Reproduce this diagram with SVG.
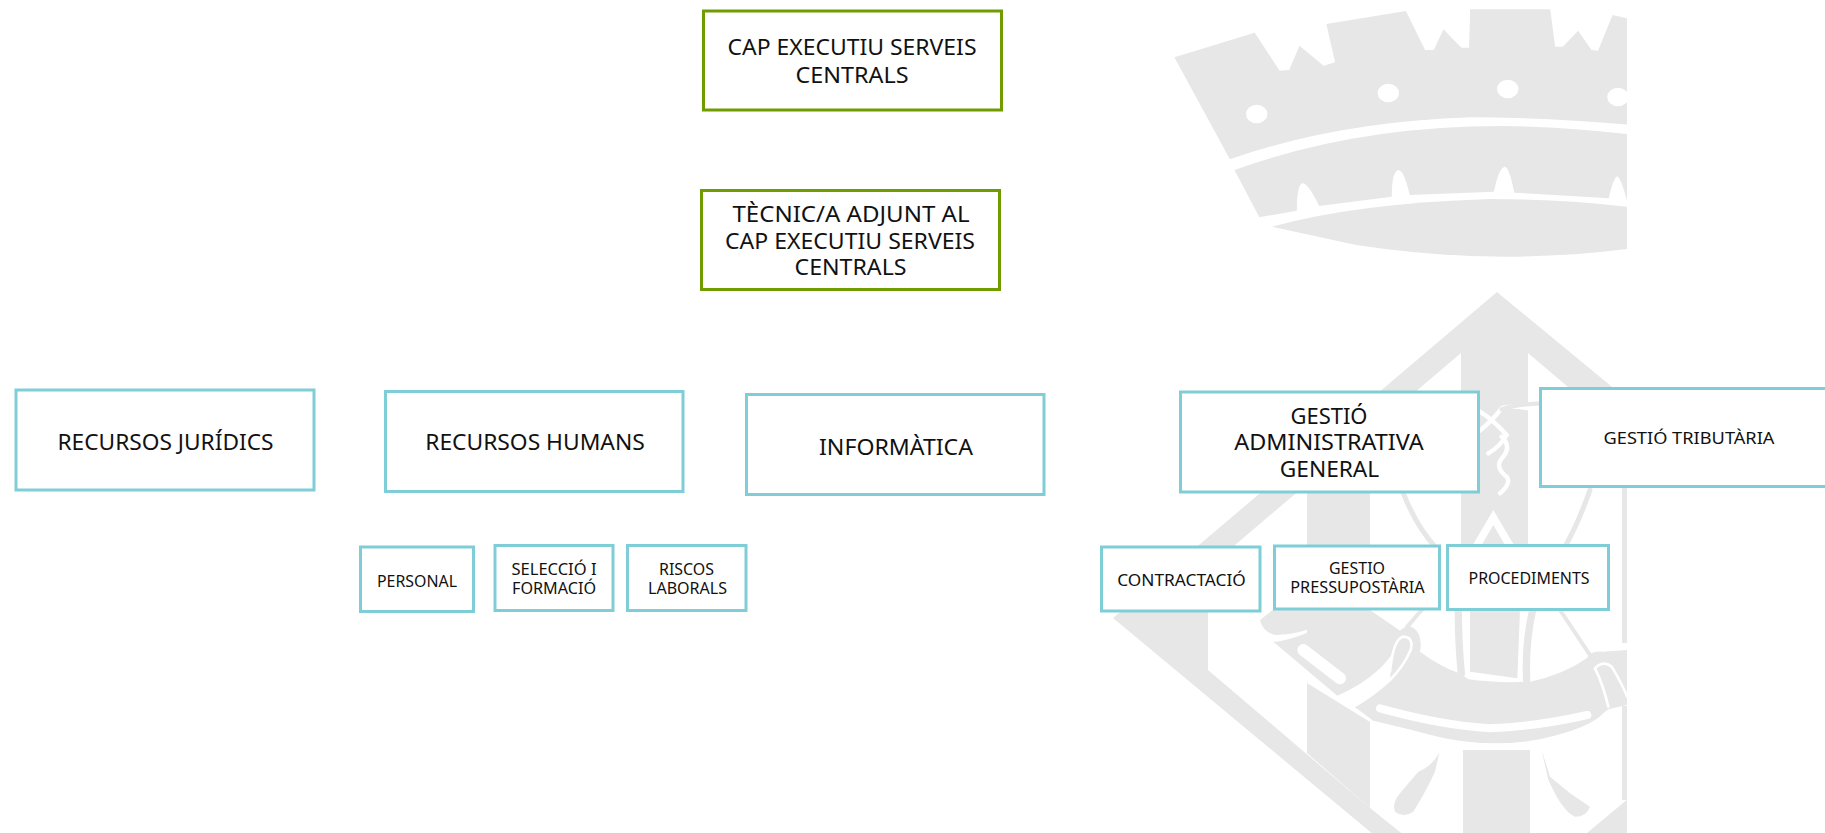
<svg xmlns="http://www.w3.org/2000/svg" width="1825" height="833" viewBox="0 0 1825 833">
<style>
.g{fill:#e7e7e7}
.gs{fill:none;stroke:#e7e7e7;stroke-linecap:round}
.w{fill:#fff}
.ws{fill:none;stroke:#fff;stroke-linecap:round}
.a{fill:#fff;stroke:#709c00;stroke-width:3}
.b{fill:#fff;stroke:#7fcdd7;stroke-width:3}
text{font-family:"Noto Sans","DejaVu Sans",sans-serif;fill:#111;text-anchor:middle}
.l{font-size:21.5px}
.m{font-size:16.5px}
.s{font-size:15.5px}
</style>
<defs><clipPath id="wm"><rect x="0" y="0" width="1627" height="833"/></clipPath></defs>
<rect width="1825" height="833" fill="#fff"/>
<g id="watermark" clip-path="url(#wm)">
<g id="crown" transform="translate(1050,0) scale(0.3827,0.3333)">
<path class="g" d="M325,172 L535,98 600,212 625,210 652,137 715,197 745,187 722,72 930,33 980,150 1003,150 1028,88 1075,143 1095,143 1098,28 1307,28 1320,140 1340,140 1380,92 1415,150 1432,152 1470,45 1520,58 V375 Q1300,352 1100,352 Q750,365 470,478 Z"/>
<ellipse class="w" cx="540" cy="342" rx="28" ry="28"/><ellipse class="w" cx="884" cy="279" rx="28" ry="28"/><ellipse class="w" cx="1196" cy="267" rx="28" ry="28"/><ellipse class="w" cx="1484" cy="291" rx="28" ry="28"/>
<path class="g" d="M482,510 Q800,378 1180,378 Q1350,380 1520,404 V610 L1507,600 Q1490,525 1480,530 Q1470,540 1460,595 L1213,578 Q1200,500 1188,500 Q1172,505 1160,575 L940,585 Q925,510 910,510 Q893,515 893,590 L703,618 Q675,550 660,550 Q645,552 645,632 L547,652 Z"/>
<path class="g" d="M580,680 Q800,610 1150,597 Q1350,597 1520,622 V745 Q1350,770 1190,770 Q1000,770 800,735 Z"/>
</g>
<g id="lozenge">
<path class="g" d="M1497,292 L1113,618 L1380,840 H1640 V410 Z"/>
<path class="w" d="M1461,353 H1528 L1640,448 V789 L1587,833 V840 H1410 L1370,808 L1208,670 V568 Z"/>
<path class="g" d="M1307,480 H1370 V640 H1307 Z"/>
<path class="g" d="M1307,683 L1370,722 V808 L1307,753 Z"/>
<path class="g" d="M1461,345 H1528 V612 H1461 Z"/>
<path class="g" d="M1463,750 H1530 V840 H1463 Z"/>
<path class="g" d="M1622,440 H1640 V643 H1622 Z"/>
<path class="g" d="M1622,706 H1640 V800 H1622 Z"/>
</g>
<g id="knot" transform="translate(1360,280) scale(0.3333)">
<path class="ws" stroke-width="13" d="M360,395 Q400,420 440,465 Q420,500 385,520 M355,455 Q390,430 425,385 Q445,375 505,385 M425,470 Q455,500 430,530 Q400,560 440,590 Q455,610 420,640"/>
<path class="gs" stroke-width="13" d="M425,388 Q470,372 545,370"/>
<path class="w" d="M400,690 L300,860 H500 Z"/>
<path class="g" d="M400,735 L362,800 H438 Z"/>
<path class="gs" stroke-width="15" d="M130,640 Q170,740 225,800"/>
<path class="gs" stroke-width="15" d="M690,630 Q655,730 615,800"/>
</g>
<g id="anchor" transform="translate(1090,600) scale(0.3333)">
<path class="g" d="M510,60 Q520,100 560,105 Q680,100 745,30 L560,20 Z"/>
<path class="g" d="M550,125 L742,287 Q850,240 905,165 L935,95 L840,30 H745 Q680,105 560,125 Z"/>
<path class="ws" stroke-width="36" d="M640,150 L750,235"/>
</g>
<g id="anchor2" transform="translate(1390,600) scale(0.3333)">
<path class="w" d="M190,30 H445 V250 H190 Z"/>
<path class="gs" stroke-width="12" d="M95,30 L50,82"/>
<path class="gs" stroke-width="22" d="M205,30 Q205,130 214,220"/>
<path class="gs" stroke-width="22" d="M428,30 Q405,130 410,240"/>
<path class="g" d="M240,30 H390 L382,235 L240,215 Z"/>
<path class="g" d="M-105,322 Q-50,290 0,245 L5,130 Q30,75 65,80 Q100,100 90,155 Q150,200 214,222 L235,238 Q320,250 420,245 Q520,225 590,175 Q600,150 640,155 L712,150 V315 L655,328 L640,340 Q600,385 450,418 Q300,445 150,412 Q50,385 -50,362 Z"/>
<path class="ws" stroke-width="8" d="M0,215 Q10,115 40,110 Q72,112 62,150 Q40,200 0,240"/>
<path class="ws" stroke-width="24" d="M-30,325 Q150,375 300,385 Q450,378 592,345"/>
<path class="ws" stroke-width="8" d="M655,320 Q640,255 615,205 Q640,180 665,200 Q690,240 712,290"/>
<path class="g" d="M148,458 L135,515 Q110,570 70,635 Q40,655 15,635 Q5,610 30,580 L85,515 Q125,500 148,458Z"/>
<path class="g" d="M455,450 L480,530 L540,580 L600,620 Q590,650 555,650 Q530,640 500,590 L475,540 Z"/>
<path class="gs" stroke-width="12" d="M510,30 L600,165"/>
</g>
</g>
<g id="connectors"></g>
<g id="cap-executiu"><rect class="a" x="703.5" y="11" width="298" height="99"/>
<text class="l" x="852" y="55" textLength="249" lengthAdjust="spacingAndGlyphs">CAP EXECUTIU SERVEIS</text>
<text class="l" x="852" y="82.5" textLength="113" lengthAdjust="spacingAndGlyphs">CENTRALS</text></g>
<g id="tecnic-adjunt"><rect class="a" x="701.5" y="190.5" width="298" height="99"/>
<text class="l" x="851" y="221.5" textLength="237" lengthAdjust="spacingAndGlyphs">TÈCNIC/A ADJUNT AL</text>
<text class="l" x="850" y="248.5" textLength="250" lengthAdjust="spacingAndGlyphs">CAP EXECUTIU SERVEIS</text>
<text class="l" x="850.5" y="275" textLength="112" lengthAdjust="spacingAndGlyphs">CENTRALS</text></g>
<g id="recursos-juridics"><rect class="b" x="16" y="390" width="298" height="100"/>
<text class="l" x="165.5" y="449.5" textLength="216" lengthAdjust="spacingAndGlyphs">RECURSOS JURÍDICS</text></g>
<g id="recursos-humans"><rect class="b" x="385.5" y="391.5" width="297.5" height="100"/>
<text class="l" x="535" y="450" textLength="219.5" lengthAdjust="spacingAndGlyphs">RECURSOS HUMANS</text></g>
<g id="informatica"><rect class="b" x="746.5" y="394.5" width="297.5" height="100"/>
<text class="l" x="896" y="455" textLength="154" lengthAdjust="spacingAndGlyphs">INFORMÀTICA</text></g>
<g id="gestio-administrativa"><rect class="b" x="1180.5" y="392" width="298" height="100"/>
<text class="l" x="1329" y="424" textLength="77" lengthAdjust="spacingAndGlyphs">GESTIÓ</text>
<text class="l" x="1329" y="450" textLength="189.5" lengthAdjust="spacingAndGlyphs">ADMINISTRATIVA</text>
<text class="l" x="1329.5" y="476.5" textLength="99.5" lengthAdjust="spacingAndGlyphs">GENERAL</text></g>
<g id="gestio-tributaria"><rect class="b" x="1540.5" y="388.5" width="300" height="98"/>
<text class="m" x="1689" y="444" textLength="171" lengthAdjust="spacingAndGlyphs">GESTIÓ TRIBUTÀRIA</text></g>
<g id="personal"><rect class="b" x="360.5" y="547" width="113" height="64.5"/>
<text class="m" x="417" y="586.5" textLength="80" lengthAdjust="spacingAndGlyphs">PERSONAL</text></g>
<g id="seleccio"><rect class="b" x="495" y="545.5" width="118" height="65"/>
<text class="s" x="554" y="575" textLength="85" lengthAdjust="spacingAndGlyphs">SELECCIÓ I</text>
<text class="s" x="554" y="594" textLength="84" lengthAdjust="spacingAndGlyphs">FORMACIÓ</text></g>
<g id="riscos"><rect class="b" x="627.5" y="545.5" width="118.5" height="65"/>
<text class="s" x="686.5" y="575" textLength="55" lengthAdjust="spacingAndGlyphs">RISCOS</text>
<text class="s" x="687.5" y="594" textLength="79" lengthAdjust="spacingAndGlyphs">LABORALS</text></g>
<g id="contractacio"><rect class="b" x="1101.5" y="547" width="158.5" height="64"/>
<text class="m" x="1181.5" y="585.5" textLength="128.5" lengthAdjust="spacingAndGlyphs">CONTRACTACIÓ</text></g>
<g id="gestio-pressupostaria"><rect class="b" x="1274.5" y="546" width="165" height="63"/>
<text class="s" x="1357" y="574" textLength="56" lengthAdjust="spacingAndGlyphs">GESTIO</text>
<text class="s" x="1357.5" y="593" textLength="134.5" lengthAdjust="spacingAndGlyphs">PRESSUPOSTÀRIA</text></g>
<g id="procediments"><rect class="b" x="1447.5" y="545.5" width="161" height="64"/>
<text class="m" x="1529" y="584" textLength="121" lengthAdjust="spacingAndGlyphs">PROCEDIMENTS</text></g>
</svg>
